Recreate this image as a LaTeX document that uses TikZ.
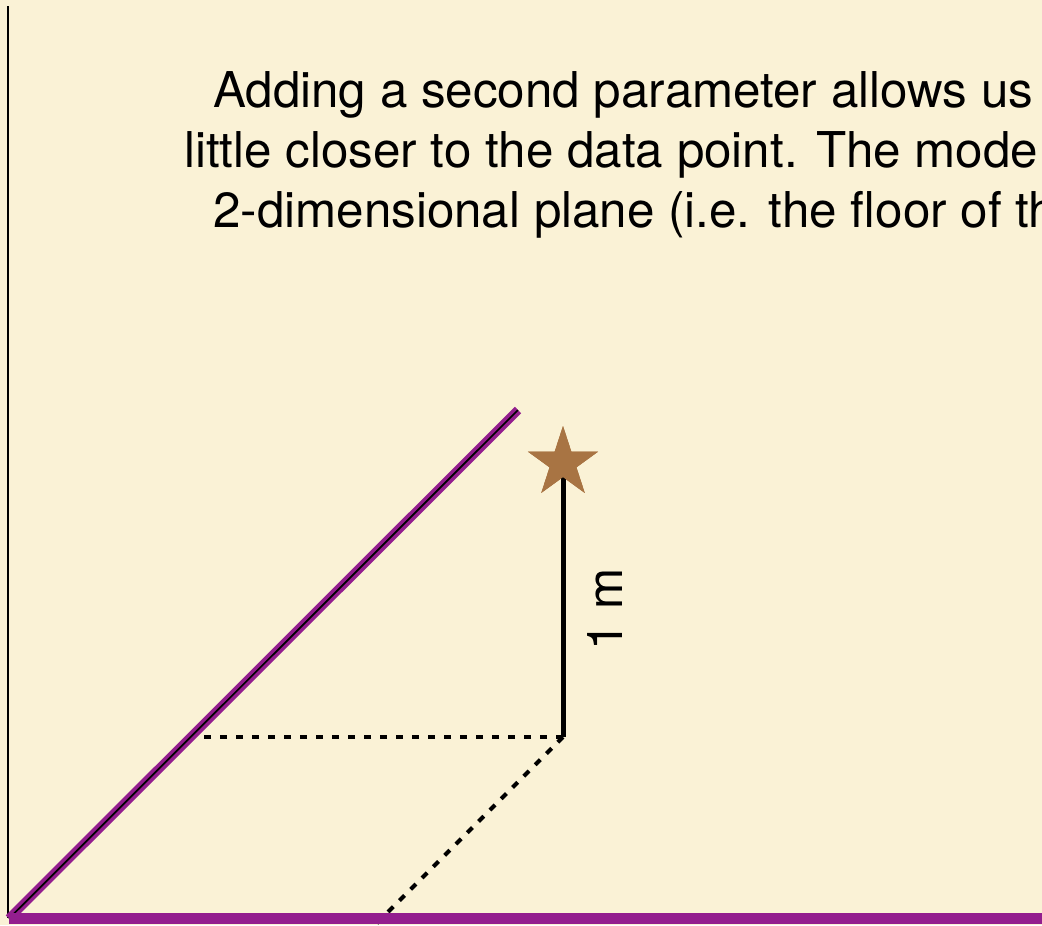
\documentclass[tikz,border=0pt]{standalone}
\usepackage{fontspec}
\setmainfont{TeX Gyre Heros}
\usetikzlibrary{shapes.geometric}
\definecolor{bg}{HTML}{FAF2D6}
\definecolor{plum}{HTML}{931E8E}
\definecolor{bronze}{HTML}{A87443}
\begin{document}
\begin{tikzpicture}[x=0.75pt,y=-0.75pt,
  txt/.style={inner sep=0pt,anchor=base west,font=\fontsize{37}{45}\selectfont},
  axisline/.style={black,line width=1.5pt},
  floor/.style={plum,line width=8.25pt},
  model/.style={plum,line width=6.8pt},
  modelcore/.style={black,line width=1.3pt},
  dashline/.style={black,line width=3pt,dash pattern=on 5.5pt off 6.5pt},
  stem/.style={black,line width=3.75pt},
  datastar/.style={star,star points=5,star point ratio=2.618,minimum size=55.5pt,inner sep=0pt,fill=bronze,draw=none}]
\useasboundingbox (0,0) rectangle (1042,925);
\fill[bg] (0,0) rectangle (1042,925);
\clip (0,0) rectangle (1042,925);
% coordinates
\coordinate (VT) at (8,6);
\coordinate (VB) at (8,918);
\coordinate (O) at (9,918.5);
\coordinate (R) at (1060,918.5);
\coordinate (D) at (518,410);
\coordinate (F) at (563,737);
\coordinate (H) at (190,737);
\coordinate (E) at (353,947);
% text
\node[txt] (t1) at (213,107) {Adding a second parameter allows us};
\node[txt] (t2) at (184,167) {little closer to the data point. The mode};
\node[txt] (t3) at (213,227) {2-dimensional plane (i.e. the floor of th};
% axes
\draw[axisline] (VT) -- (VB);
% dashed projections
\draw[dashline] (F) -- (H);
\draw[dashline] (F) -- (E);
% model line
\draw[model] (O) -- (D);
\draw[modelcore] (O) -- (D);
% floor
\draw[floor] (O) -- (R);
% data point
\node[datastar] (pt) at (563,463) {};
\draw[stem] (F) -- ([yshift=-2pt]pt.center);
\node[datastar] (pt2) at (pt.center) {};
% label
\node[txt,rotate=90] (lab) at (622,651) {1 m};
\end{tikzpicture}
\end{document}
